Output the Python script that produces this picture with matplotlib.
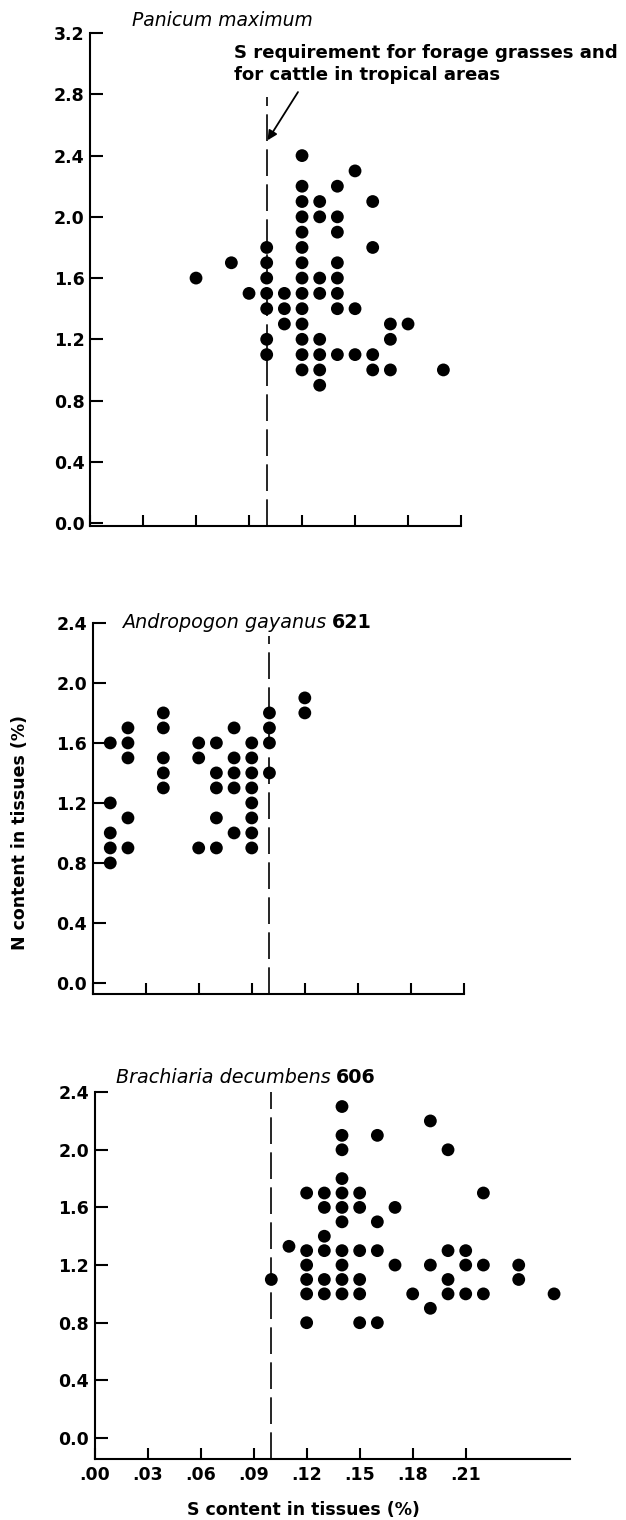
import matplotlib
matplotlib.use("Agg")
import matplotlib.pyplot as plt

# Panicum maximum
pm_s = [0.06, 0.08, 0.09,
        0.10, 0.10, 0.10, 0.10, 0.10, 0.10, 0.10,
        0.11, 0.11, 0.11,
        0.12, 0.12, 0.12, 0.12, 0.12, 0.12, 0.12, 0.12, 0.12, 0.12, 0.12, 0.12, 0.12, 0.12,
        0.13, 0.13, 0.13, 0.13, 0.13, 0.13, 0.13, 0.13,
        0.14, 0.14, 0.14, 0.14, 0.14, 0.14, 0.14, 0.14,
        0.15, 0.15, 0.15,
        0.16, 0.16, 0.16, 0.16,
        0.17, 0.17, 0.17,
        0.18, 0.20]
pm_n = [1.6, 1.7, 1.5,
        1.8, 1.7, 1.6, 1.5, 1.4, 1.2, 1.1,
        1.5, 1.4, 1.3,
        2.4, 2.2, 2.1, 2.0, 1.9, 1.8, 1.7, 1.6, 1.5, 1.4, 1.3, 1.2, 1.1, 1.0,
        2.1, 2.0, 1.6, 1.5, 1.2, 1.1, 1.0, 0.9,
        2.2, 2.0, 1.9, 1.7, 1.6, 1.5, 1.4, 1.1,
        2.3, 1.4, 1.1,
        2.1, 1.8, 1.1, 1.0,
        1.3, 1.2, 1.0,
        1.3, 1.0]

# Andropogon gayanus 621
ag_s = [0.01, 0.01, 0.01, 0.01, 0.01,
        0.02, 0.02, 0.02, 0.02, 0.02,
        0.04, 0.04, 0.04, 0.04, 0.04,
        0.06, 0.06, 0.06,
        0.07, 0.07, 0.07, 0.07, 0.07,
        0.08, 0.08, 0.08, 0.08, 0.08,
        0.09, 0.09, 0.09, 0.09, 0.09, 0.09, 0.09, 0.09,
        0.10, 0.10, 0.10, 0.10,
        0.12, 0.12]
ag_n = [1.6, 1.2, 1.0, 0.9, 0.8,
        1.7, 1.6, 1.5, 1.1, 0.9,
        1.8, 1.7, 1.5, 1.4, 1.3,
        1.6, 1.5, 0.9,
        1.6, 1.4, 1.3, 1.1, 0.9,
        1.7, 1.5, 1.4, 1.3, 1.0,
        1.6, 1.5, 1.4, 1.3, 1.2, 1.1, 1.0, 0.9,
        1.8, 1.7, 1.6, 1.4,
        1.9, 1.8]

# Brachiaria decumbens 606
bd_s = [0.10, 0.11,
        0.12, 0.12, 0.12, 0.12, 0.12, 0.12,
        0.13, 0.13, 0.13, 0.13, 0.13, 0.13,
        0.14, 0.14, 0.14, 0.14, 0.14, 0.14, 0.14, 0.14, 0.14, 0.14, 0.14,
        0.15, 0.15, 0.15, 0.15, 0.15, 0.15,
        0.16, 0.16, 0.16, 0.16,
        0.17, 0.17,
        0.18,
        0.19, 0.19, 0.19,
        0.20, 0.20, 0.20, 0.20,
        0.21, 0.21, 0.21,
        0.22, 0.22, 0.22,
        0.24, 0.24,
        0.26]
bd_n = [1.1, 1.33,
        1.7, 1.3, 1.2, 1.1, 1.0, 0.8,
        1.7, 1.6, 1.4, 1.3, 1.1, 1.0,
        2.3, 2.1, 2.0, 1.8, 1.7, 1.6, 1.5, 1.3, 1.2, 1.1, 1.0,
        1.7, 1.6, 1.3, 1.1, 1.0, 0.8,
        2.1, 1.5, 1.3, 0.8,
        1.6, 1.2,
        1.0,
        2.2, 1.2, 0.9,
        2.0, 1.3, 1.1, 1.0,
        1.3, 1.2, 1.0,
        1.7, 1.2, 1.0,
        1.2, 1.1,
        1.0]

s_req = 0.10
x_ticks = [0.00, 0.03, 0.06, 0.09, 0.12, 0.15, 0.18, 0.21]
x_labels = [".00", ".03", ".06", ".09", ".12", ".15", ".18", ".21"]

plt.rcParams['font.family'] = ['DejaVu Sans']

fig = plt.figure(figsize=(6.26, 15.2), dpi=100)

ax1 = fig.add_axes([0.1438, 0.6539, 0.5927, 0.3243])
ax2 = fig.add_axes([0.1479, 0.3461, 0.5933, 0.2441])
ax3 = fig.add_axes([0.1511, 0.0401, 0.7594, 0.2414])


def style(ax, ymax, ybot, xmax, yticks):
    ax.set_xlim(0, xmax)
    ax.set_ylim(ybot, ymax)
    for sp in ['top', 'right']:
        ax.spines[sp].set_visible(False)
    for sp in ['left', 'bottom']:
        ax.spines[sp].set_linewidth(1.5)
    ax.set_yticks(yticks)
    ax.set_yticklabels(["%.1f" % v for v in yticks], fontsize=12.5, fontweight='bold')
    ax.set_xticks(x_ticks)
    ax.tick_params(axis='y', direction='in', length=9.5, width=1.5, pad=4)
    ax.tick_params(axis='x', direction='in', length=8, width=1.5, pad=5)


style(ax1, 3.2, -0.02, 0.21, [0.0, 0.4, 0.8, 1.2, 1.6, 2.0, 2.4, 2.8, 3.2])
style(ax2, 2.4, -0.073, 0.21, [0.0, 0.4, 0.8, 1.2, 1.6, 2.0, 2.4])
style(ax3, 2.4, -0.146, 0.269, [0.0, 0.4, 0.8, 1.2, 1.6, 2.0, 2.4])

ax1.set_xticklabels([])
ax2.set_xticklabels([])
ax3.set_xticklabels(x_labels, fontsize=12.5, fontweight='bold')

dash = (0, (16, 5))
ax1.plot([s_req, s_req], [-0.02, 2.78], color='black', lw=1.2, linestyle=dash, zorder=1)
ax2.plot([s_req, s_req], [-0.073, 2.31], color='black', lw=1.2, linestyle=dash, zorder=1)
ax3.plot([s_req, s_req], [-0.146, 2.4], color='black', lw=1.2, linestyle=dash, zorder=1)

for ax, xs, ys in [(ax1, pm_s, pm_n), (ax2, ag_s, ag_n), (ax3, bd_s, bd_n)]:
    ax.scatter(xs, ys, s=85, color='black', edgecolors='none', zorder=3, clip_on=False)

# titles
ax1.text(0.0238, 3.285, "Panicum maximum", fontsize=13.5, style='italic',
         va='center', ha='left', clip_on=False)

t2 = ax2.text(0.0166, 2.4, "Andropogon gayanus", fontsize=13.8, style='italic',
              va='center', ha='left', clip_on=False)
ax2.annotate("621", xy=(1, 0.5), xycoords=t2, xytext=(4, 0), textcoords='offset points',
             fontsize=13.8, fontweight='bold', va='center', ha='left')

t3 = ax3.text(0.0121, 2.50, "Brachiaria decumbens", fontsize=13.8, style='italic',
              va='center', ha='left', clip_on=False)
ax3.annotate("606", xy=(1, 0.5), xycoords=t3, xytext=(4, 0), textcoords='offset points',
             fontsize=13.8, fontweight='bold', va='center', ha='left')

# S requirement note
ax1.text(0.0815, 3.0, "S requirement for forage grasses and\nfor cattle in tropical areas",
         fontsize=13.1, fontweight='bold', va='center', ha='left', linespacing=1.25,
         clip_on=False)
ax1.annotate("", xy=(0.1005, 2.50), xytext=(0.1177, 2.815),
             arrowprops=dict(arrowstyle='-|>', color='black', lw=1.3,
                             mutation_scale=14, shrinkA=0, shrinkB=0))

fig.text(0.032, 1 - 833 / 1520, "N content in tissues (%)", rotation=90,
         fontsize=12.5, fontweight='bold', va='center', ha='center')
fig.text(303 / 626, 1 - 1510 / 1520, "S content in tissues (%)",
         fontsize=12.5, fontweight='bold', va='center', ha='center')

fig.savefig("out.png", dpi=100, facecolor='white')
